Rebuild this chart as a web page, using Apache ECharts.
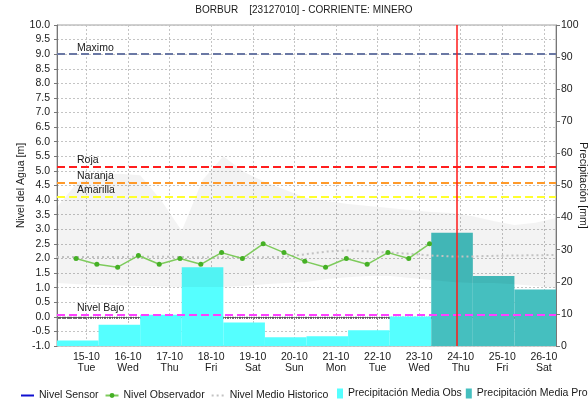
<!DOCTYPE html>
<html>
<head>
<meta charset="utf-8">
<script src="https://cdn.jsdelivr.net/npm/echarts@6/dist/echarts.min.js"></script>
<style>
  html, body { margin: 0; padding: 0; background: #ffffff; }
  #chart { width: 588px; height: 403px; }
</style>
</head>
<body>
<div id="chart"></div>
<script>
// ---- Station data (BORBUR, Minero river) ----
const weekdayNames = ['Sun', 'Mon', 'Tue', 'Wed', 'Thu', 'Fri', 'Sat'];

// Observer readings (m), twice a day
const observerTimes = [
  '2024-10-14 18:00', '2024-10-15 06:00', '2024-10-15 18:00', '2024-10-16 06:00',
  '2024-10-16 18:00', '2024-10-17 06:00', '2024-10-17 18:00', '2024-10-18 06:00',
  '2024-10-18 18:00', '2024-10-19 06:00', '2024-10-19 18:00', '2024-10-20 06:00',
  '2024-10-20 18:00', '2024-10-21 06:00', '2024-10-21 18:00', '2024-10-22 06:00',
  '2024-10-22 18:00', '2024-10-23 06:00'
];
const observerLevels = [2.0, 1.8, 1.7, 2.1, 1.8, 2.0, 1.8, 2.2, 2.0, 2.5, 2.2, 1.9, 1.7, 2.0, 1.8, 2.2, 2.0, 2.5];

// Historical statistics (m)
const histTimes = [
  '2024-10-14 07:00', '2024-10-14 19:00', '2024-10-15 07:00', '2024-10-15 19:00',
  '2024-10-16 07:00', '2024-10-16 19:00', '2024-10-17 07:00', '2024-10-17 19:00',
  '2024-10-18 07:00', '2024-10-18 19:00', '2024-10-19 07:00', '2024-10-19 19:00',
  '2024-10-20 07:00', '2024-10-20 19:00', '2024-10-21 07:00', '2024-10-21 19:00',
  '2024-10-22 07:00', '2024-10-22 19:00', '2024-10-23 07:00', '2024-10-23 19:00',
  '2024-10-24 07:00', '2024-10-24 19:00', '2024-10-25 07:00', '2024-10-25 19:00',
  '2024-10-26 07:00'
];
const histMax  = [3.76, 4.62, 4.85, 4.90, 4.85, 4.00, 2.95, 4.69, 5.50, 4.96, 4.62, 4.35, 4.07,
                  3.97, 3.87, 3.80, 3.73, 3.66, 3.59, 3.56, 3.45, 3.28, 3.15, 3.22, 3.39];
const histMin  = [1.16, 1.12, 1.09, 1.07, 1.06, 1.04, 1.02, 1.02, 1.02, 1.06, 1.12, 1.16, 1.19,
                  1.30, 1.36, 1.40, 1.40, 1.33, 1.26, 1.19, 1.16, 1.16, 1.12, 1.06, 0.99];
const histMean = [2.05, 2.05, 2.05, 2.05, 2.06, 2.06, 2.05, 2.04, 2.04, 2.04, 2.04, 2.06, 2.15,
                  2.24, 2.27, 2.24, 2.20, 2.16, 2.10, 2.07, 2.07, 2.09, 2.10, 2.11, 2.12];

// Daily precipitation (mm), hydrological day starting 07:00
const obsPrecipStart = ['2024-10-14 07:00', '2024-10-15 07:00', '2024-10-16 07:00', '2024-10-17 07:00',
                        '2024-10-18 07:00', '2024-10-19 07:00', '2024-10-20 07:00', '2024-10-21 07:00',
                        '2024-10-22 07:00'];
const obsPrecip = [1.7, 6.6, 9.7, 24.5, 7.3, 2.7, 3.0, 4.9, 9.2];
const proPrecipStart = ['2024-10-23 07:00', '2024-10-24 07:00', '2024-10-25 07:00'];
const proPrecip = [35.3, 21.8, 17.6];

// Alert thresholds (m)
const thresholdNames  = ['Maximo', 'Roja', 'Naranja', 'Amarilla', 'Nivel Bajo'];
const thresholdLevels = [9.0, 5.14, 4.61, 4.12, 0.08];

const axisStart = '2024-10-14 07:00';
const axisEnd   = '2024-10-26 07:00';
const nowTime   = '2024-10-23 21:30';

// ---- helpers ----
const DAY = 24 * 3600 * 1000;
const FONT = '"Liberation Sans", Arial, sans-serif';
const thresholdColors = ['#6A78A4', '#FF1E1E', '#FF9A2A', '#FFFF2E', '#FF40FF'];

function toTime(s) {
  const [d, hm] = s.split(' ');
  const [y, m, dd] = d.split('-').map(Number);
  const [h, mi] = hm.split(':').map(Number);
  return new Date(y, m - 1, dd, h, mi).getTime();
}
function pad2(n) { return (n < 10 ? '0' : '') + n; }
function dayLabel(value) {
  const d = new Date(value);
  return pad2(d.getDate()) + '-' + pad2(d.getMonth() + 1) + '\n' + weekdayNames[d.getDay()];
}
function renderPrecipBar(params, api) {
  const top = api.coord([api.value(0), api.value(2)]);
  const bottom = api.coord([api.value(1), 0]);
  return {
    type: 'rect',
    shape: { x: top[0], y: top[1], width: bottom[0] - top[0], height: bottom[1] - top[1] },
    style: { fill: api.visual('color') }
  };
}

const chart = echarts.init(document.getElementById('chart'), null, { renderer: 'canvas' });

const textBase = { fontFamily: FONT, fontSize: 10.5, color: '#1a1a1a' };

chart.setOption({
  animation: false,
  backgroundColor: '#ffffff',
  textStyle: { fontFamily: FONT },
  title: {
    text: 'BORBUR    [23127010] - CORRIENTE: MINERO',
    left: 304, top: 5, padding: 0, textAlign: 'center',
    textStyle: { fontFamily: FONT, fontSize: 10, fontWeight: 'normal', color: '#1a1a1a' }
  },
  grid: {
    left: 57, right: 32, top: 25, bottom: 57,
    show: true, borderColor: '#a0a0a0', borderWidth: 1,
    containLabel: false, outerBoundsMode: 'none'
  },
  legend: [
    {
      data: [
        { name: 'Nivel Sensor', itemStyle: { opacity: 0 } },
        { name: 'Nivel Observador' },
        { name: 'Nivel Medio Historico', itemStyle: { opacity: 0 } }
      ],
      left: 20, top: 390, padding: 0, itemWidth: 13, itemHeight: 6, itemGap: 6,
      textStyle: textBase, selectedMode: false
    },
    {
      data: ['Precipitación Media Obs', 'Precipitación Media Pronosticada'],
      left: 337, top: 388, width: 700, padding: 0, itemWidth: 6, itemHeight: 10, itemGap: 4,
      icon: 'rect', textStyle: textBase, selectedMode: false
    }
  ],
  xAxis: {
    type: 'time',
    min: toTime(axisStart), max: toTime(axisEnd),
    minInterval: DAY, maxInterval: DAY,
    axisLine: { show: true, lineStyle: { color: '#777777' } },
    axisTick: { show: true, length: 3, lineStyle: { color: '#777777' } },
    minorTick: { show: true, splitNumber: 24, length: 2, lineStyle: { color: '#555555' } },
    axisLabel: Object.assign({}, textBase, {
      formatter: dayLabel, margin: 5, lineHeight: 11.5,
      showMinLabel: false, showMaxLabel: false, hideOverlap: false
    }),
    splitLine: { show: true, lineStyle: { color: '#c4c4c4', type: [2, 2] } }
  },
  yAxis: [
    {
      type: 'value', position: 'left', min: -1, max: 10, interval: 0.5,
      name: 'Nivel del Agua [m]', nameLocation: 'middle', nameGap: 30, nameMoveOverlap: false,
      nameTextStyle: textBase,
      axisLine: { show: true, lineStyle: { color: '#777777' } },
      axisTick: { show: true, length: 3, lineStyle: { color: '#777777' } },
      axisLabel: Object.assign({}, textBase, { margin: 7, formatter: v => v.toFixed(1) }),
      splitLine: { show: true, lineStyle: { color: '#c4c4c4', type: [2, 2] } }
    },
    {
      type: 'value', position: 'right', min: 0, max: 100, interval: 10,
      name: 'Precipitación [mm]', nameLocation: 'middle', nameGap: 21, nameRotate: -90,
      nameMoveOverlap: false,
      nameTextStyle: textBase,
      axisLine: { show: true, lineStyle: { color: '#777777' } },
      axisTick: { show: true, length: 4, lineStyle: { color: '#777777' } },
      axisLabel: Object.assign({}, textBase, { margin: 5 }),
      splitLine: { show: false }
    }
  ],
  series: [
    {
      name: 'Precipitación Media Obs',
      type: 'custom', xAxisIndex: 0, yAxisIndex: 1, z: 1,
      itemStyle: { color: '#55FFFF' },
      encode: { x: [0, 1], y: 2 },
      renderItem: renderPrecipBar,
      data: obsPrecipStart.map((s, i) => [toTime(s), toTime(s) + DAY, obsPrecip[i]])
    },
    {
      name: 'Precipitación Media Pronosticada',
      type: 'custom', xAxisIndex: 0, yAxisIndex: 1, z: 1,
      itemStyle: { color: '#45BFBF' },
      encode: { x: [0, 1], y: 2 },
      renderItem: renderPrecipBar,
      data: proPrecipStart.map((s, i) => [toTime(s), toTime(s) + DAY, proPrecip[i]])
    },
    {
      name: 'Rango Historico Min',
      type: 'line', stack: 'rango', z: 2, silent: true,
      symbol: 'none', lineStyle: { width: 0, opacity: 0 },
      data: histTimes.map((t, i) => [toTime(t), histMin[i]])
    },
    {
      name: 'Rango Historico Max',
      type: 'line', stack: 'rango', z: 2, silent: true,
      symbol: 'none', lineStyle: { width: 0, opacity: 0 },
      areaStyle: { color: 'rgba(0,0,0,0.065)' },
      data: histTimes.map((t, i) => [toTime(t), histMax[i] - histMin[i]])
    },
    {
      name: 'Nivel Sensor',
      type: 'line', symbol: 'none', z: 3,
      lineStyle: { color: '#1010D0', width: 1.5 }, itemStyle: { color: '#1010D0' },
      data: []
    },
    {
      name: 'Nivel Medio Historico',
      type: 'line', symbol: 'none', z: 3,
      lineStyle: { color: '#c2c2c2', width: 2, type: [2, 3] }, itemStyle: { color: '#c2c2c2' },
      data: histTimes.map((t, i) => [toTime(t), histMean[i]]),
      markLine: {
        silent: true, symbol: ['none', 'none'], z: 5,
        lineStyle: { width: 2, type: [8, 4] },
        label: {
          show: true, position: 'insideStartTop', formatter: '{b}', distance: [20, 1],
          fontFamily: FONT, fontSize: 10.5, color: '#1a1a1a'
        },
        data: thresholdNames.map((n, i) => ({
          name: n, yAxis: thresholdLevels[i], lineStyle: { color: thresholdColors[i] }
        })).concat([{
          name: 'Ahora', xAxis: toTime(nowTime),
          lineStyle: { color: '#FF1A1A', width: 1.5, type: 'solid' },
          label: { show: false }
        }])
      }
    },
    {
      name: 'Nivel Observador',
      type: 'line', z: 4,
      symbol: 'circle', symbolSize: 5,
      lineStyle: { color: '#7ECB5C', width: 1.5 },
      itemStyle: { color: '#45B025' },
      data: observerTimes.map((t, i) => [toTime(t), observerLevels[i]])
    }
  ]
});
</script>
</body>
</html>
